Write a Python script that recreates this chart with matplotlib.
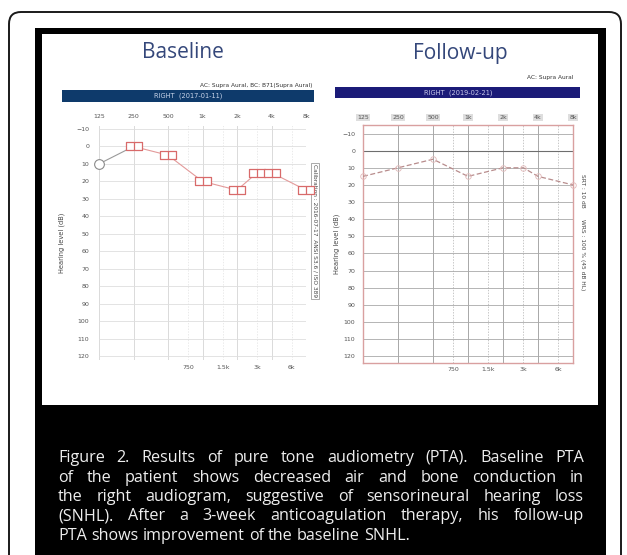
import matplotlib
matplotlib.use("Agg")
import matplotlib.pyplot as plt
from matplotlib.patches import Rectangle, FancyBboxPatch
from matplotlib.path import Path
import matplotlib.ticker as mticker

# ---- data ----
freq_major = [125, 250, 500, 1000, 2000, 4000, 8000]
freq_major_labels = ["125", "250", "500", "1k", "2k", "4k", "8k"]
freq_half = [750, 1500, 3000, 6000]
freq_half_labels = ["750", "1.5k", "3k", "6k"]
db_ticks = list(range(-10, 130, 10))

baseline_freqs = [125, 250, 500, 1000, 2000, 3000, 4000, 8000]
baseline_levels = [10, 0, 5, 20, 25, 15, 15, 25]

followup_freqs = [125, 250, 500, 1000, 2000, 3000, 4000, 8000]
followup_levels = [15, 10, 5, 15, 10, 10, 15, 20]

caption_lines = [
    "Figure 2. Results of pure tone audiometry (PTA). Baseline PTA",
    "of the patient shows decreased air and bone conduction in",
    "the right audiogram, suggestive of sensorineural hearing loss",
    "(SNHL). After a 3-week anticoagulation therapy, his follow-up",
    "PTA shows improvement of the baseline SNHL.",
]

W, H = 627, 555
fig = plt.figure(figsize=(W / 100, H / 100), dpi=100)
fig.patch.set_facecolor("white")

# full-figure canvas in pixel units (y downwards)
bg = fig.add_axes([0, 0, 1, 1])
bg.set_xlim(0, W)
bg.set_ylim(H, 0)
bg.axis("off")

bg.add_patch(FancyBboxPatch((9, 12), 612, 600, boxstyle="round,pad=0,rounding_size=12",
                            fc="white", ec="#1a1a1a", lw=1.4))
bg.add_patch(Rectangle((35, 28), 571, 540, fc="black", ec="none"))
bg.add_patch(Rectangle((42, 34), 556, 371, fc="white", ec="none"))

title_font = ["Open Sans", "DejaVu Sans"]
bg.text(183, 53, "Baseline", ha="center", va="center", fontsize=15,
        color="#34477a", family=title_font)
bg.text(460, 54, "Follow-up", ha="center", va="center", fontsize=15,
        color="#34477a", family=title_font)

# header bars
bg.add_patch(Rectangle((62, 90), 252, 12, fc="#0e3a6b", ec="none"))
bg.text(188, 96, "RIGHT  (2017-01-11)", ha="center", va="center", fontsize=4.8,
        color="#c8d4ea")
bg.text(313, 86, "AC: Supra Aural, BC: B71(Supra Aural)", ha="right", va="center",
        fontsize=4.2, color="#333333")
bg.add_patch(Rectangle((335, 87), 245, 11, fc="#1b1b78", ec="none"))
bg.text(458, 92.5, "RIGHT  (2019-02-21)", ha="center", va="center", fontsize=4.8,
        color="#c8c8ea")
bg.text(573, 77, "AC: Supra Aural", ha="right", va="center", fontsize=4.2,
        color="#333333")


def px_axes(x0, x1, y0, y1):
    return fig.add_axes([x0 / W, 1 - y1 / H, (x1 - x0) / W, (y1 - y0) / H])


def setup_audiogram(ax, ylo, yhi, grid_major, grid_minor, grid_h, pad_top, pad_bottom, pad_left):
    ax.set_facecolor("none")
    ax.set_xscale("log")
    ax.set_xlim(125, 8000)
    ax.set_ylim(yhi, ylo)
    ax.xaxis.set_major_locator(mticker.FixedLocator(freq_major))
    ax.xaxis.set_major_formatter(mticker.FixedFormatter(freq_major_labels))
    ax.xaxis.set_minor_locator(mticker.FixedLocator(freq_half))
    ax.xaxis.set_minor_formatter(mticker.FixedFormatter(freq_half_labels))
    ax.set_yticks(db_ticks)
    ax.tick_params(axis="x", which="major", top=False, bottom=False, labeltop=True,
                   labelbottom=False, labelsize=4.5, pad=pad_top, colors="#555555")
    ax.tick_params(axis="x", which="minor", top=False, bottom=False, labeltop=False,
                   labelbottom=True, labelsize=4.5, pad=pad_bottom, colors="#555555")
    ax.tick_params(axis="y", left=False, labelsize=4.5, pad=pad_left, colors="#555555")
    for f in freq_major:
        ax.axvline(f, color=grid_major, lw=0.6, zorder=0)
    for f in freq_half:
        ax.axvline(f, color=grid_minor, lw=0.5, ls=(0, (2, 2)), zorder=0)
    for d in db_ticks:
        ax.axhline(d, color=grid_h, lw=0.6, zorder=0)


# baseline audiogram
ax1 = px_axes(99, 306, 125.5, 359.5)
setup_audiogram(ax1, -12, 122, "#d4d4d4", "#e2e2e2", "#dedede", 1.0, 2.0, 3.5)
for s in ax1.spines.values():
    s.set_visible(False)
ax1.set_ylabel("Hearing level (dB)", fontsize=4.8, color="#444444")
ax1.yaxis.set_label_coords(-0.165, 0.5)

bracket_pair = Path(
    [(-1, -0.5), (1, -0.5), (1, 0.5), (-1, 0.5), (-1, -0.5), (0, -0.5), (0, 0.5)],
    [Path.MOVETO, Path.LINETO, Path.LINETO, Path.LINETO, Path.CLOSEPOLY,
     Path.MOVETO, Path.LINETO],
)
ax1.plot(baseline_freqs[:2], baseline_levels[:2], color="#9a9a9a", lw=0.8, zorder=3,
         clip_on=False)
ax1.plot(baseline_freqs[1:], baseline_levels[1:], color="#e39a9a", lw=0.8, zorder=3,
         clip_on=False)
ax1.plot(baseline_freqs[1:], baseline_levels[1:], ls="none", marker=bracket_pair,
         ms=11, mfc="white", mec="#d86a6a", mew=0.9, zorder=4, clip_on=False)
ax1.plot(baseline_freqs[:1], baseline_levels[:1], ls="none", marker="o", ms=7,
         mfc="white", mec="#8a8a8a", mew=0.8, zorder=4, clip_on=False)
ax1.text(1.045, 0.55, "Calibration : 2016-07-17  ANSI S3.6 / ISO 389", transform=ax1.transAxes,
         rotation=-90, ha="center", va="center", fontsize=4.2, color="#444444",
         bbox=dict(fc="white", ec="#888888", lw=0.5, pad=1))

# follow-up audiogram
ax2 = px_axes(363, 573, 125, 363)
setup_audiogram(ax2, -15, 124, "#9a9a9a", "#b0b0b0", "#a8a8a8", 0.2, 1.0, 2.0)
for s in ax2.spines.values():
    s.set_color("#d9a0a0")
    s.set_linewidth(1.0)
ax2.axhline(0, color="#6e6e6e", lw=0.8, zorder=1)
for lbl in ax2.get_xticklabels(which="major"):
    lbl.set_bbox(dict(fc="#dedede", ec="none", pad=0.8))
ax2.set_ylabel("Hearing level (dB)", fontsize=4.8, color="#444444")
ax2.yaxis.set_label_coords(-0.11, 0.5)
ax2.plot(followup_freqs, followup_levels, color="#b88c8c", lw=0.9, ls=(0, (4, 2)), zorder=3)
ax2.plot(followup_freqs, followup_levels, ls="none", marker="o", ms=4, mfc="none",
         mec="#e0b8b8", mew=0.6, zorder=4, clip_on=False)
ax2.text(1.045, 0.55, "SRT : 10 dB      WRS : 100 % (45 dB HL)", transform=ax2.transAxes,
         rotation=-90, ha="center", va="center", fontsize=4.2, color="#444444")

# justified caption
cap_font = ["Open Sans", "DejaVu Sans"]
cap_size = 11.6
x_left, x_right = 58, 584
line_y = [458, 477.5, 497, 516.5, 536]
fig.canvas.draw()
renderer = fig.canvas.get_renderer()


def text_width(s):
    t = bg.text(0, 0, s, fontsize=cap_size, family=cap_font)
    w = t.get_window_extent(renderer).width
    t.remove()
    return w


natural_gap = text_width("a a") - text_width("aa")
for i, (line, y) in enumerate(zip(caption_lines, line_y)):
    words = line.split(" ")
    texts = [bg.text(0, y, w, ha="left", va="center", fontsize=cap_size,
                     color="#eeeeee", family=cap_font) for w in words]
    widths = [t.get_window_extent(renderer).width for t in texts]
    if i == len(caption_lines) - 1:
        gap = natural_gap
    else:
        gap = (x_right - x_left - sum(widths)) / (len(words) - 1)
    x = x_left
    for t, w in zip(texts, widths):
        t.set_x(x)
        x += w + gap

fig.savefig("out.png", dpi=100, facecolor="white")
